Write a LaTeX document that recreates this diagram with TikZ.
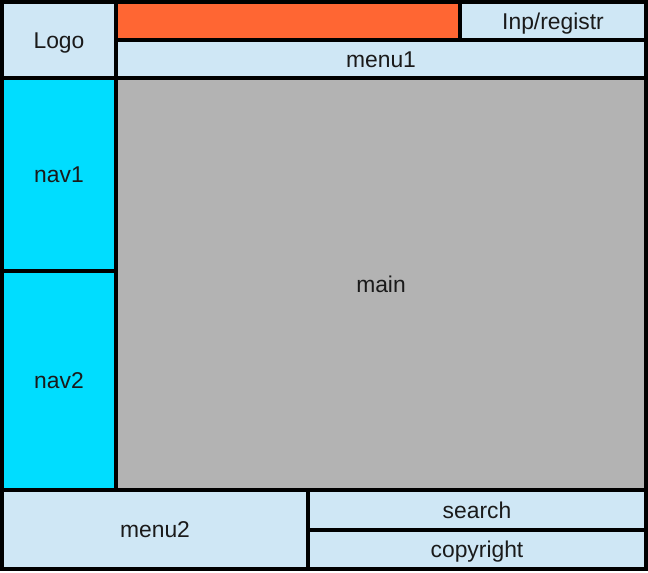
\documentclass[tikz,border=0pt]{standalone}
\usepackage{fontspec}
\setmainfont{Liberation Sans}
\usepackage{xcolor}
\definecolor{pagelight}{RGB}{207,231,245}
\definecolor{pageorange}{RGB}{255,102,51}
\definecolor{pagecyan}{RGB}{0,221,255}
\definecolor{pagegray}{RGB}{179,179,179}
\definecolor{pagetext}{RGB}{26,26,26}
\usetikzlibrary{positioning}

\tikzset{
  block/.style={draw=black, line width=0.08cm, inner sep=0pt, outer sep=0pt,
    text=pagetext, font=\fontsize{13}{15}\selectfont,
    text height=9.3pt, text depth=0pt},
}

\begin{document}
\begin{tikzpicture}[x=0.02cm, y=-0.02cm]
\useasboundingbox (0,0) rectangle (648,573);

% --- Header ---
\node[block, fill=pagelight, minimum width=114*0.02cm, minimum height=76*0.02cm]
  (logo) at (59,40) {Logo};
\node[block, fill=pageorange, minimum width=344*0.02cm, minimum height=38*0.02cm]
  (topbar) at (288,21) {};
\node[block, fill=pagelight, minimum width=186*0.02cm, minimum height=38*0.02cm]
  (login) at (553,21) {Inp/registr};
\node[block, fill=pagelight, minimum width=530*0.02cm, minimum height=38*0.02cm]
  (menuone) at (381,59) {menu1};

% --- Left navigation ---
\node[block, fill=pagecyan, minimum width=114*0.02cm, minimum height=193*0.02cm]
  (navone) at (59,174.5) {nav1};
\node[block, fill=pagecyan, minimum width=114*0.02cm, minimum height=219*0.02cm]
  (navtwo) at (59,380.5) {nav2};

% --- Content ---
\node[block, fill=pagegray, minimum width=530*0.02cm, minimum height=412*0.02cm]
  (main) at (381,284) {main};

% --- Footer ---
\node[block, fill=pagelight, minimum width=306*0.02cm, minimum height=79*0.02cm]
  (menutwo) at (155,529.5) {menu2};
\node[block, fill=pagelight, minimum width=338*0.02cm, minimum height=40*0.02cm]
  (search) at (477,510) {search};
\node[block, fill=pagelight, minimum width=338*0.02cm, minimum height=39*0.02cm]
  (copyright) at (477,549.5) {copyright};

\end{tikzpicture}
\end{document}
